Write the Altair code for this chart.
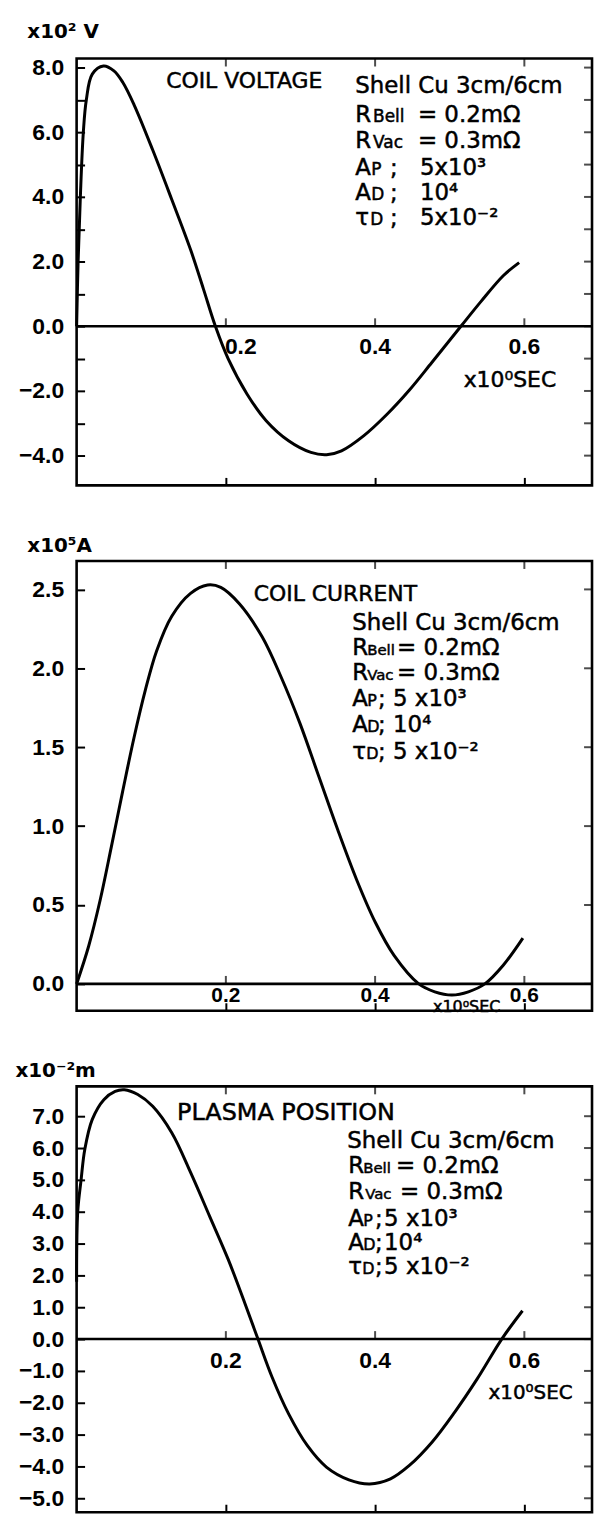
import altair as alt
import pandas as pd

# ---------------- data ----------------
# time axis in units of x10^0 SEC
VOLT_T = [0, 0.002, 0.005, 0.009, 0.013, 0.021, 0.036, 0.05, 0.062, 0.077, 0.102, 0.1275,
          0.153, 0.170, 0.186, 0.203, 0.2285, 0.254, 0.284, 0.314, 0.335, 0.355, 0.385,
          0.416, 0.446, 0.476, 0.515, 0.542, 0.572, 0.593]
VOLT_V = [0, 2.0, 4.0, 6.0, 7.0, 7.8, 8.05, 7.9, 7.54, 6.85, 5.45, 3.92,
          2.35, 1.15, 0.0, -1.0, -2.10, -2.92, -3.54, -3.90, -3.97, -3.85, -3.38,
          -2.72, -1.97, -1.12, 0.0, 0.77, 1.57, 1.97]

CURR_T = [0, 0.0163, 0.0315, 0.0466, 0.0617, 0.0769, 0.092, 0.1072, 0.1275, 0.1527,
          0.1755, 0.1932, 0.2184, 0.2488, 0.274, 0.2993, 0.3246, 0.3498, 0.3751, 0.4004,
          0.4256, 0.4585, 0.48, 0.503, 0.525, 0.547, 0.572, 0.598]
CURR_A = [0, 0.242, 0.53, 0.87, 1.22, 1.56, 1.86, 2.11, 2.33, 2.475,
          2.528, 2.513, 2.408, 2.198, 1.945, 1.651, 1.314, 0.978, 0.662, 0.389,
          0.179, 0.0, -0.05, -0.07, -0.05, 0.0, 0.12, 0.29]

POS_T = [0, 0.0015, 0.006, 0.011, 0.021, 0.0365, 0.0516, 0.064, 0.082, 0.102, 0.1275,
         0.153, 0.178, 0.203, 0.2235, 0.243, 0.262, 0.2841, 0.3093, 0.3347, 0.3649,
         0.3928, 0.4206, 0.4459, 0.4762, 0.5065, 0.5368, 0.5697, 0.5975]
POS_P = [1.8, 4.0, 5.0, 5.96, 6.9, 7.52, 7.78, 7.83, 7.68, 7.31, 6.48,
         5.22, 3.87, 2.51, 1.25, 0.0, -1.2, -2.35, -3.35, -4.02, -4.42,
         -4.55, -4.39, -3.97, -3.24, -2.30, -1.25, 0.0, 0.89]

VOLT_TICKS = [-4, -3, -2, -1, 0, 1, 2, 3, 4, 5, 6, 7, 8]
CURR_TICKS = [0, 0.5, 1.0, 1.5, 2.0, 2.5]
POS_TICKS = [-5, -4, -3, -2, -1, 0, 1, 2, 3, 4, 5, 6, 7]
X_TICKS = [0.2, 0.4, 0.6]
X_LABELS = ["0.2", "0.4", "0.6"]

# ---------------- layout helpers ----------------
FONT_TXT = "DejaVu Sans"
FONT_NUM = "Liberation Sans"
NUM_WEIGHT = "bold"
W = 518
PX_PER_T = 750.0
XMAX = W / PX_PER_T
INK = 0.5   # extra stroke on lettering, imitating the pen-drawn original


def tt(px):
    """horizontal annotation position (pixel in page) -> time units"""
    return (px - 75) / PX_PER_T


def make_panel(t, y, ydom, height, yticks, label_expr, unit, unit_x, unit_y,
               title_txt, title_pos, title_size, lines, sec, xlab_size, xlab_dy,
               first_dx=0, anchor=False):
    xs = alt.Scale(domain=[0, XMAX], nice=False, zero=False)
    ys = alt.Scale(domain=ydom, nice=False, zero=False)
    X = lambda: alt.X("t:Q", scale=xs, axis=None)
    Y = lambda: alt.Y("y:Q", scale=ys, axis=None)
    df = pd.DataFrame({"t": t, "y": y})

    curve = alt.Chart(df).mark_line(color="black", strokeWidth=3,
                                    interpolate="catmull-rom").encode(
        x=alt.X("t:Q", scale=xs, axis=alt.Axis(
            orient="bottom", values=X_TICKS, labels=False, title=None,
            domain=False, grid=False, tickSize=8, tickWidth=2, tickColor="black",
            offset=-8)),
        y=alt.Y("y:Q", scale=ys, axis=alt.Axis(
            orient="left", values=yticks, labelExpr=label_expr,
            labelFont=FONT_NUM, labelFontSize=23, labelFontWeight=NUM_WEIGHT,
            labelColor="black",
            labelPadding=13, labelOverlap=False, labelFlush=False,
            domain=False, grid=False, tickSize=8, tickWidth=2, tickColor="black",
            offset=-8, title=unit, titleAngle=0, titleX=unit_x, titleY=unit_y,
            titleAlign="left", titleBaseline="alphabetic", titleFont=FONT_TXT,
            titleFontSize=20, titleFontWeight="bold", titleColor="black")),
    )
    # inward ticks on the right and top edges of the frame
    rdf = pd.DataFrame({"t": [XMAX] * len(yticks), "y": yticks})
    rticks = alt.Chart(rdf).mark_tick(orient="horizontal", color="black",
                                      thickness=2, size=8, xOffset=-4).encode(x=X(), y=Y())
    tdf = pd.DataFrame({"t": X_TICKS, "y": [ydom[1]] * len(X_TICKS)})
    tticks = alt.Chart(tdf).mark_tick(orient="vertical", color="black",
                                      thickness=2, size=8, yOffset=4).encode(x=X(), y=Y())

    zero = alt.Chart(pd.DataFrame({"y": [0]})).mark_rule(
        color="black", strokeWidth=2.6).encode(y=Y())
    xdf = pd.DataFrame({"t": X_TICKS, "y": [0] * len(X_TICKS), "lab": X_LABELS})
    zticks = alt.Chart(xdf).mark_tick(orient="vertical", color="black", thickness=2,
                                      size=8, yOffset=-4).encode(x=X(), y=Y())
    xl_first = alt.Chart(xdf).transform_filter("datum.t < 0.3").mark_text(
        font=FONT_NUM, fontSize=xlab_size, fontWeight=NUM_WEIGHT, color="black",
        baseline="middle", align="center", dy=xlab_dy, dx=first_dx).encode(
        x=X(), y=Y(), text="lab:N")
    xl_rest = alt.Chart(xdf).transform_filter("datum.t > 0.3").mark_text(
        font=FONT_NUM, fontSize=xlab_size, fontWeight=NUM_WEIGHT, color="black",
        baseline="middle", align="center", dy=xlab_dy).encode(
        x=X(), y=Y(), text="lab:N")

    rows = [{"t": tt(title_pos[0]), "y": title_pos[1], "text": title_txt,
             "size": title_size}]
    for base, segs in lines:
        for txt, size, xpx in segs:
            rows.append({"t": tt(xpx), "y": base, "text": txt, "size": size})
    ann = alt.Chart(pd.DataFrame(rows)).mark_text(
        font=FONT_TXT, align="left", baseline="alphabetic", color="black",
        stroke="black", strokeWidth=INK).encode(
        x=X(), y=Y(), text="text:N",
        size=alt.Size("size:Q", scale=None, legend=None))

    sdf = pd.DataFrame({"t": [tt(sec[0])], "y": [sec[1]], "text": ["x10⁰SEC"]})
    secl = alt.Chart(sdf).mark_text(font=FONT_TXT, fontSize=sec[2], align=sec[3],
                                    baseline="alphabetic", color="black",
                                    stroke="black", strokeWidth=INK).encode(
        x=X(), y=Y(), text="text:N")

    layers = [curve, rticks, tticks, zero, zticks, xl_first, xl_rest, ann, secl]
    if anchor:
        layers.append(alt.Chart(pd.DataFrame({"a": [0]})).mark_rule(
            opacity=0, strokeWidth=0).encode(
            x=alt.value(-75), x2=alt.value(-75), y=alt.value(-53), y2=alt.value(-53)))
    return alt.layer(*layers).resolve_axis(x="independent", y="independent").properties(
        width=W, height=height)


# ---------------- panels ----------------
p1_lines = [
    (7.20, [("Shell  Cu 3cm/6cm", 23, 355)]),
    (6.308, [("R", 23, 355), ("Bell", 17, 373), ("= 0.2mΩ", 23, 418)]),
    (5.508, [("R", 23, 355), ("Vac", 17, 373), ("= 0.3mΩ", 23, 418)]),
    (4.677, [("A", 23, 355), ("P", 17, 371), (";", 23, 390), ("5x10³", 23, 420)]),
    (3.908, [("A", 23, 355), ("D", 17, 371), (";", 23, 390), ("10⁴", 23, 420)]),
    (3.138, [("τ", 23, 355), ("D", 17, 370), (";", 23, 390), ("5x10⁻²", 23, 420)]),
]
p1 = make_panel(VOLT_T, VOLT_V, [-4.92, 8.28], 429, VOLT_TICKS,
                "datum.value % 2 == 0 ? format(datum.value, '.1f') : ''",
                "x10² V", -58, -21, "COIL VOLTAGE", (165, 7.354), 22, p1_lines,
                (464, -1.877, 22, "left"), 23, 21, first_dx=15, anchor=True)

p2_lines = [
    (2.2446, [("Shell  Cu 3cm/6cm", 23, 352)]),
    (2.087, [("R", 23, 352), ("Bell", 15, 367), ("= 0.2mΩ", 23, 397)]),
    (1.923, [("R", 23, 352), ("Vac", 15, 367), ("= 0.3mΩ", 23, 397)]),
    (1.759, [("A", 23, 352), ("P", 16, 367), (";", 23, 378), ("5 x10³", 23, 393)]),
    (1.595, [("A", 23, 352), ("D", 16, 367), (";", 23, 378), ("10⁴", 23, 393)]),
    (1.425, [("τ", 23, 352), ("D", 16, 366), (";", 23, 378), ("5 x10⁻²", 23, 393)]),
]
p2 = make_panel(CURR_T, CURR_A, [-0.17, 2.68], 452, CURR_TICKS,
                "format(datum.value, '.1f')",
                "x10⁵A", -58, -10, "COIL CURRENT", (253, 2.4275), 22, p2_lines,
                (467, -0.1765, 16, "center"), 21, 12)

p3_lines = [
    (6.0, [("Shell  Cu 3cm/6cm", 23, 347)]),
    (5.219, [("R", 23, 348), ("Bell", 15, 363), ("= 0.2mΩ", 23, 396)]),
    (4.406, [("R", 23, 348), ("Vac", 15, 365), ("= 0.3mΩ", 23, 400)]),
    (3.5625, [("A", 23, 348), ("P", 16, 363), (";", 23, 375), ("5 x10³", 23, 384)]),
    (2.8125, [("A", 23, 348), ("D", 16, 363), (";", 23, 375), ("10⁴", 23, 384)]),
    (2.031, [("τ", 23, 348), ("D", 16, 362), (";", 23, 375), ("5 x10⁻²", 23, 384)]),
]
p3 = make_panel(POS_T, POS_P, [-5.4375, 7.9375], 428, POS_TICKS,
                "format(datum.value, '.1f')",
                "x10⁻²m", -70, -10, "PLASMA POSITION", (176, 6.875), 24, p3_lines,
                (489, -1.875, 20, "left"), 23, 22)

chart = alt.vconcat(p1, p2, p3, spacing=76, bounds="flush").properties(
    padding=0, background="white"
).configure_view(stroke="black", strokeWidth=2.6)

chart.save("out.html", embed_options={"renderer": "svg", "actions": False})
